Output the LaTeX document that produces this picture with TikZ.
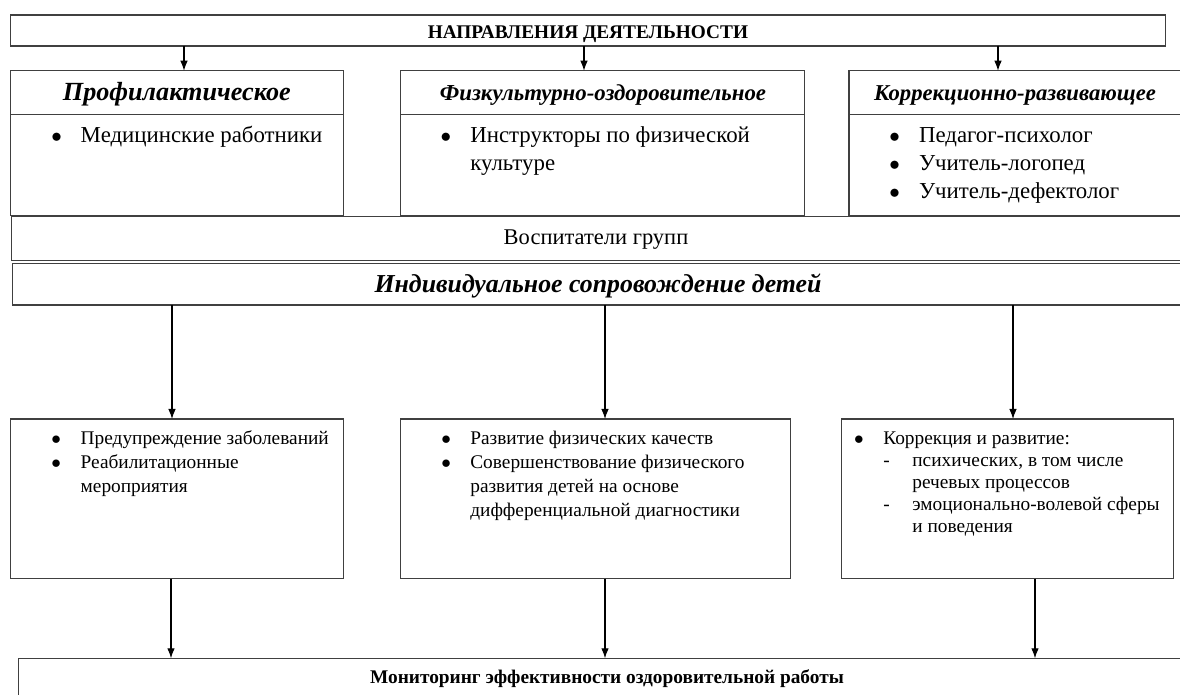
\documentclass[tikz,border=0pt]{standalone}
\usepackage{fontspec}
\setmainfont{Liberation Serif}
\usetikzlibrary{arrows.meta}

\tikzset{
  cadre/.style={draw=black!75, line width=0.6pt, inner sep=0pt, outer sep=0pt, anchor=north west},
  fleche/.style={-{Latex[length=2mm,width=1.5mm]}, line width=0.6pt},
  texte/.style={inner sep=0pt, anchor=base west},
  entete/.style={inner sep=0pt, anchor=base, font=\fontsize{#1}{16}\selectfont\bfseries\itshape},
  corps/.style={texte, font=\fontsize{13}{15.9}\selectfont},
  petit/.style={texte, font=\fontsize{11}{13.6}\selectfont},
}
\newcommand{\puce}{$\bullet$}

\begin{document}
\begin{tikzpicture}[x=0.02cm, y=-0.02cm]
  \useasboundingbox (0,0) rectangle (1180,695);
  \clip (0,0) rectangle (1180,695);

  % cadres
  \node[cadre, minimum width=23.104cm, minimum height=0.62cm] (dir) at (10.3,15) {};
  \node[cadre, minimum width=6.66cm, minimum height=0.88cm] (hprof) at (10.3,70.7) {};
  \node[cadre, minimum width=6.66cm, minimum height=2.012cm] (bprof) at (10.3,114.7) {};
  \node[cadre, minimum width=8.086cm, minimum height=0.88cm] (hfizk) at (400.7,70.7) {};
  \node[cadre, minimum width=8.086cm, minimum height=2.012cm] (bfizk) at (400.7,114.7) {};
  \node[cadre, minimum width=6.82cm, minimum height=0.88cm] (hkorr) at (849,70.7) {};
  \node[cadre, minimum width=6.82cm, minimum height=2.012cm] (bkorr) at (849,114.7) {};
  \node[cadre, minimum width=23.57cm, minimum height=0.872cm] (vosp) at (11.5,216.7) {};
  \node[cadre, minimum width=23.556cm, minimum height=0.834cm] (indiv) at (12.2,263.3) {};
  \node[cadre, minimum width=6.66cm, minimum height=3.194cm] (cprof) at (10.3,419) {};
  \node[cadre, minimum width=7.796cm, minimum height=3.194cm] (cfizk) at (400.7,419) {};
  \node[cadre, minimum width=6.65cm, minimum height=3.194cm] (ckorr) at (841.5,419) {};
  \node[cadre, minimum width=23.432cm, minimum height=1.034cm] (monit) at (18.4,658.3) {};

  % textes
  \node[texte, anchor=base, font=\fontsize{11}{13}\selectfont\bfseries] (tdir) at (588,39) {НАПРАВЛЕНИЯ ДЕЯТЕЛЬНОСТИ};
  \node[entete=14.9] (tprof) at (176.8,101) {Профилактическое};
  \node[entete=13] (tfizk) at (603,101) {Физкультурно-оздоровительное};
  \node[entete=12.9] (tkorr) at (1015,101) {Коррекционно-развивающее};
  \node[corps] (lprof) at (50.9,143) {\begin{tabular}[t]{@{}p{0.59cm}@{}l@{}}
    \puce & Медицинские работники\end{tabular}};
  \node[corps] (lfizk) at (440.2,143) {\begin{tabular}[t]{@{}p{0.596cm}@{}l@{}}
    \puce & Инструкторы по физической\\ & культуре\end{tabular}};
  \node[corps] (lkorr) at (888.9,143) {\begin{tabular}[t]{@{}p{0.596cm}@{}l@{}}
    \puce & Педагог-психолог\\ \puce & Учитель-логопед\\ \puce & Учитель-дефектолог\end{tabular}};
  \node[corps, anchor=base, font=\fontsize{12.8}{15}\selectfont] (tvosp) at (596,245) {Воспитатели групп};
  \node[entete=14.7] (tindiv) at (598,293) {Индивидуальное сопровождение детей};
  \node[petit] (lpre) at (51.1,445) {\begin{tabular}[t]{@{}p{0.586cm}@{}l@{}}
    \puce & Предупреждение заболеваний\\ \puce & Реабилитационные\\ & мероприятия\end{tabular}};
  \node[petit] (lraz) at (441,445) {\begin{tabular}[t]{@{}p{0.58cm}@{}l@{}}
    \puce & Развитие физических качеств\\ \puce & Совершенствование физического\\
    & развития детей на основе\\ & дифференциальной диагностики\end{tabular}};
  \node[petit, font=\fontsize{11}{12.6}\selectfont] (lcor) at (853.7,444.3) {\begin{tabular}[t]{@{}p{0.586cm}@{}p{0.58cm}@{}l@{}}
    \puce & \multicolumn{2}{@{}l@{}}{Коррекция и развитие:}\\
    & - & психических, в том числе\\ & & речевых процессов\\
    & - & эмоционально-волевой сферы\\ & & и поведения\end{tabular}};
  \node[texte, anchor=base, font=\fontsize{11}{13}\selectfont\bfseries] (tmonit) at (607,683) {Мониторинг эффективности оздоровительной работы};

  % fleches
  \coordinate (a1) at (184,0);
  \coordinate (a2) at (584,0);
  \coordinate (a3) at (998,0);
  \coordinate (b1) at (172,0);
  \coordinate (b2) at (605,0);
  \coordinate (b3) at (1013,0);
  \coordinate (c1) at (171,0);
  \coordinate (c2) at (605,0);
  \coordinate (c3) at (1035,0);
  \draw[fleche] (a1 |- dir.south) -- (a1 |- hprof.north);
  \draw[fleche] (a2 |- dir.south) -- (a2 |- hfizk.north);
  \draw[fleche] (a3 |- dir.south) -- (a3 |- hkorr.north);
  \draw[fleche] (b1 |- indiv.south) -- (b1 |- cprof.north);
  \draw[fleche] (b2 |- indiv.south) -- (b2 |- cfizk.north);
  \draw[fleche] (b3 |- indiv.south) -- (b3 |- ckorr.north);
  \draw[fleche] (c1 |- cprof.south) -- (c1 |- monit.north);
  \draw[fleche] (c2 |- cfizk.south) -- (c2 |- monit.north);
  \draw[fleche] (c3 |- ckorr.south) -- (c3 |- monit.north);
\end{tikzpicture}
\end{document}
